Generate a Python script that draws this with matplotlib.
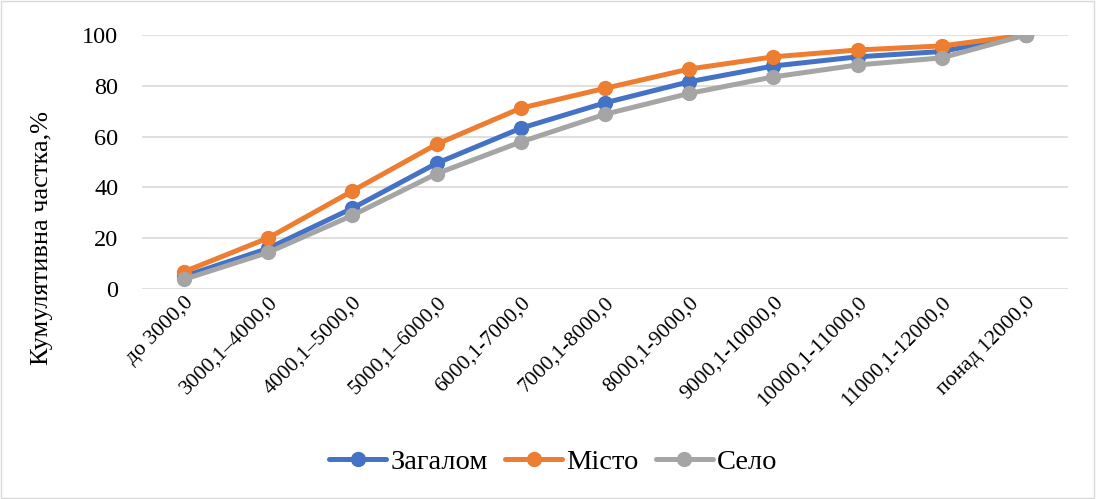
import matplotlib
matplotlib.use("Agg")
import matplotlib.pyplot as plt
from matplotlib.patches import Rectangle

categories = ["до 3000,0", "3000,1–4000,0", "4000,1–5000,0", "5000,1–6000,0",
              "6000,1-7000,0", "7000,1-8000,0", "8000,1-9000,0", "9000,1-10000,0",
              "10000,1-11000,0", "11000,1-12000,0", "понад 12000,0"]
zagalom = [5.0, 16.0, 31.8, 49.5, 63.3, 73.3, 81.6, 87.8, 91.4, 93.5, 100.0]
misto = [6.8, 20.1, 38.6, 57.0, 71.2, 79.0, 86.6, 91.4, 94.1, 95.7, 100.0]
selo = [3.8, 14.4, 29.0, 45.4, 57.9, 68.8, 77.0, 83.5, 88.2, 91.0, 100.0]
series_names = ["Загалом", "Місто", "Село"]
yticks = [0, 20, 40, 60, 80, 100]

plt.rcParams['font.family'] = ['Liberation Serif', 'DejaVu Serif']

fig = plt.figure(figsize=(10.96, 4.99), dpi=100)
fig.patches.append(Rectangle((0.001, 0.002), 0.997, 0.995, transform=fig.transFigure,
                             fill=False, edgecolor='#D9D9D9', linewidth=1))
ax = fig.add_axes([142/1096, 1-289/499, (1068-142)/1096, (289-35)/499])

x = list(range(len(categories)))
colors = ['#4472C4', '#ED7D31', '#A5A5A5']
for vals, name, c in zip([zagalom, misto, selo], series_names, colors):
    ax.plot(x, vals, color=c, linewidth=3.6, marker='o', markersize=10,
            label=name, solid_capstyle='round', zorder=3)

ax.set_xlim(-0.5, len(categories) - 0.5)
ax.set_ylim(0, 100)
ax.set_yticks(yticks)
ax.tick_params(axis='y', length=0, labelsize=17.5, pad=17)
ax.tick_params(axis='x', length=0, pad=3)
ax.set_xticks(x)
ax.set_xticklabels(categories, rotation=45, ha='right', rotation_mode='anchor',
                   fontsize=15.5)
ax.grid(axis='y', color='#D9D9D9', linewidth=1.2)
ax.set_axisbelow(True)
for s in ax.spines.values():
    s.set_visible(False)

fig.text(42/1096, 1-238/499, "Кумулятивна частка,%", rotation=90, fontsize=19,
         ha='center', va='center')

leg = fig.legend(loc='center', bbox_to_anchor=(0.505, 1-462/499), ncol=3, frameon=False,
                 fontsize=20.5, handlelength=2.0, columnspacing=0.6, handletextpad=0.15)

fig.savefig("out.png", dpi=100)
